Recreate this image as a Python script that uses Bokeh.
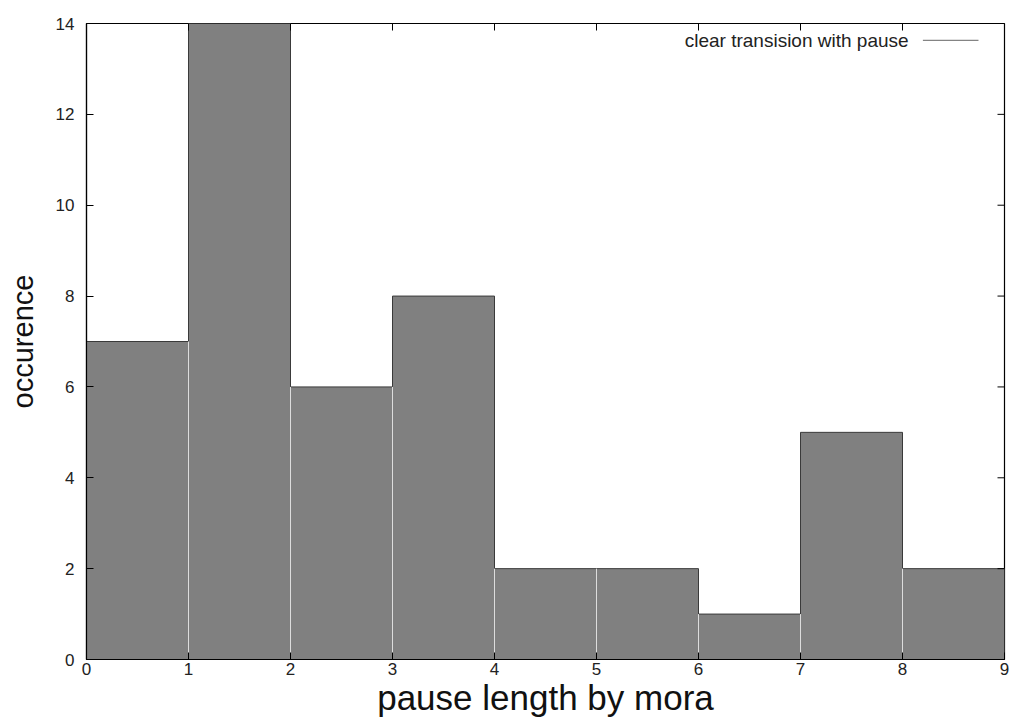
from bokeh.plotting import figure
from bokeh.models import Range1d, Label, Arrow, FixedTicker
from bokeh.embed import file_html
from bokeh.resources import INLINE

bin_left = [0, 1, 2, 3, 4, 5, 6, 7, 8]
bin_right = [1, 2, 3, 4, 5, 6, 7, 8, 9]
counts = [7, 14, 6, 8, 2, 2, 1, 5, 2]
x_ticks = [0, 1, 2, 3, 4, 5, 6, 7, 8, 9]
y_ticks = [0, 2, 4, 6, 8, 10, 12, 14]
legend_label = "clear transision with pause"
x_title = "pause length by mora"
y_title = "occurence"

FONT = "Liberation Sans"
X0, X1, Y0, Y1 = 0, 9, 0, 14

p = figure(width=1013, height=725, output_backend="svg", toolbar_location=None,
           x_range=Range1d(X0, X1), y_range=Range1d(Y0, Y1),
           min_border_left=86, min_border_right=9, min_border_top=23, min_border_bottom=66)
p.outline_line_color = "black"
p.outline_line_width = 1.2
p.grid.visible = False

p.quad(left=bin_left, right=bin_right, bottom=0, top=counts,
       fill_color="#808080", line_color="#3a3a3a", line_width=1)
# light separators between adjacent bars
p.segment(x0=bin_left[1:], y0=0, x1=bin_left[1:],
          y1=[min(a, b) for a, b in zip(counts[:-1], counts[1:])],
          line_color="#dddddd", line_width=1)

for ax in (p.xaxis[0], p.yaxis[0]):
    ax.major_tick_in = 7
    ax.major_tick_out = 0
    ax.minor_tick_in = 0
    ax.minor_tick_out = 0
    ax.axis_line_color = "black"
    ax.axis_line_width = 1.2
    ax.major_label_text_font = FONT
    ax.major_label_text_font_size = "17px"
    ax.major_label_text_color = "#222222"
    ax.axis_label_text_font = FONT
    ax.axis_label_text_font_style = "normal"
    ax.axis_label_text_color = "#111111"

p.xaxis[0].ticker = FixedTicker(ticks=x_ticks)
p.yaxis[0].ticker = FixedTicker(ticks=y_ticks)
p.xaxis[0].axis_label = x_title
p.xaxis[0].axis_label_text_font_size = "35px"
p.xaxis[0].major_label_standoff = 3
p.xaxis[0].axis_label_standoff = 0
p.yaxis[0].axis_label = y_title
p.yaxis[0].axis_label_text_font_size = "29px"
p.yaxis[0].major_label_standoff = 12
p.yaxis[0].axis_label_standoff = 14

# mirrored inward ticks on top and right
tx = 7 / (918 / (X1 - X0))
ty = 7 / (636 / (Y1 - Y0))
p.segment(x0=x_ticks, y0=Y1, x1=x_ticks, y1=Y1 - ty, line_color="black", line_width=1)
p.segment(x0=X1, y0=y_ticks, x1=X1 - tx, y1=y_ticks, line_color="black", line_width=1)

p.add_layout(Label(x=8.06, y=13.63, text=legend_label, text_align="right", text_baseline="middle",
                   text_font=FONT, text_font_size="19px", text_color="#222222"))
p.add_layout(Arrow(start=None, end=None, x_start=8.20, y_start=13.63, x_end=8.745, y_end=13.63,
                   line_color="#666666", line_width=1))

open("out.html", "w").write(file_html(p, INLINE))
